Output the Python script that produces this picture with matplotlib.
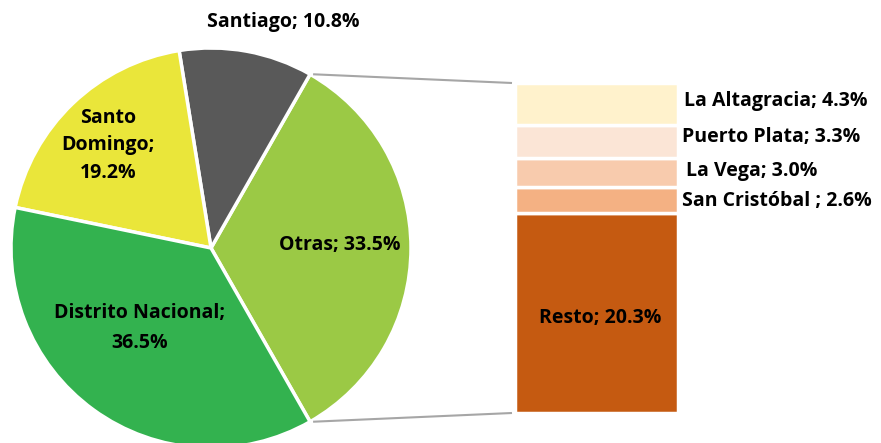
import matplotlib as mpl
import matplotlib.pyplot as plt
import numpy as np

mpl.rcParams['font.family'] = "Open Sans"
mpl.rcParams['font.weight'] = "bold"

# pie: share of total (%)
pie_labels = ["Otras", "Santiago", "Santo Domingo", "Distrito Nacional"]
pie_values = [33.5, 10.8, 19.2, 36.5]
pie_colors = ["#9BC945", "#595959", "#EAE63A", "#33B24F"]

# breakdown of "Otras" (bottom to top)
bar_labels = ["Resto", "San Cristóbal ", "La Vega", "Puerto Plata", "La Altagracia"]
bar_values = [20.3, 2.6, 3.0, 3.3, 4.3]
bar_colors = ["#C55A11", "#F4B183", "#F8CBAD", "#FBE5D6", "#FFF2CC"]


def plot():
    fig = plt.figure(figsize=(8.81, 4.43), dpi=100)
    ax = fig.add_axes([0, 0, 1, 1])

    center = (211, 195)
    radius = 200
    start = -pie_values[0] / 2 * 3.6
    wedges, _ = ax.pie(pie_values, colors=pie_colors, startangle=start,
                       center=center, radius=radius, frame=True,
                       wedgeprops=dict(edgecolor='white', linewidth=2.5))
    ax.set_xlim(0, 881)
    ax.set_ylim(0, 443)
    ax.set_aspect('equal')
    ax.axis('off')

    # stacked bar for "Otras"
    scale = 330 / sum(bar_values)
    bx, bw = 596.5, 163
    bottom = 30
    bars = []
    for lab, val, col in zip(bar_labels, bar_values, bar_colors):
        b = ax.bar(bx, val * scale, width=bw, bottom=bottom, color=col,
                   edgecolor='white', linewidth=2.5)
        bars.append(b[0])
        bottom += val * scale

    # connector lines
    w = wedges[0]
    top_bar = bars[-1]
    bot_bar = bars[0]
    for ang, (xb, yb) in [(w.theta2, (top_bar.get_x(), top_bar.get_y() + top_bar.get_height())),
                          (w.theta1, (bot_bar.get_x(), bot_bar.get_y()))]:
        xp = center[0] + radius * np.cos(np.radians(ang))
        yp = center[1] + radius * np.sin(np.radians(ang))
        ax.plot([xp + 3, xb - 3], [yp, yb], color='#A6A6A6', lw=1.5,
                solid_capstyle='butt')

    fs = 14
    ax.text(340, 198, f"{pie_labels[0]}; {pie_values[0]}%", ha='center',
            va='center', fontsize=fs, fontweight='bold')
    ax.text(283, 421, f"{pie_labels[1]}; {pie_values[1]}%", ha='center',
            va='center', fontsize=fs, fontweight='bold')
    ax.text(108, 298, "Santo\nDomingo;\n" + f"{pie_values[2]}%", ha='center',
            va='center', fontsize=fs, fontweight='bold', linespacing=1.5)
    ax.text(140, 115, f"{pie_labels[3]};\n{pie_values[3]}%", ha='center',
            va='center', fontsize=fs, fontweight='bold', linespacing=1.6)

    # bar labels
    ax.text(bx + 4, bars[0].get_y() + bars[0].get_height() / 2 - 5,
            f"{bar_labels[0]}; {bar_values[0]}%", ha='center', va='center',
            fontsize=fs, fontweight='bold')
    label_y = [None, 242, 272, 306, 342]
    label_x = [None, 682, 686, 682, 684]
    for i in range(1, len(bar_labels)):
        ax.text(label_x[i], label_y[i], f"{bar_labels[i]}; {bar_values[i]}%",
                ha='left', va='center', fontsize=fs, fontweight='bold')

    plt.savefig('out.png', dpi=100)


if __name__ == '__main__':
    plot()
